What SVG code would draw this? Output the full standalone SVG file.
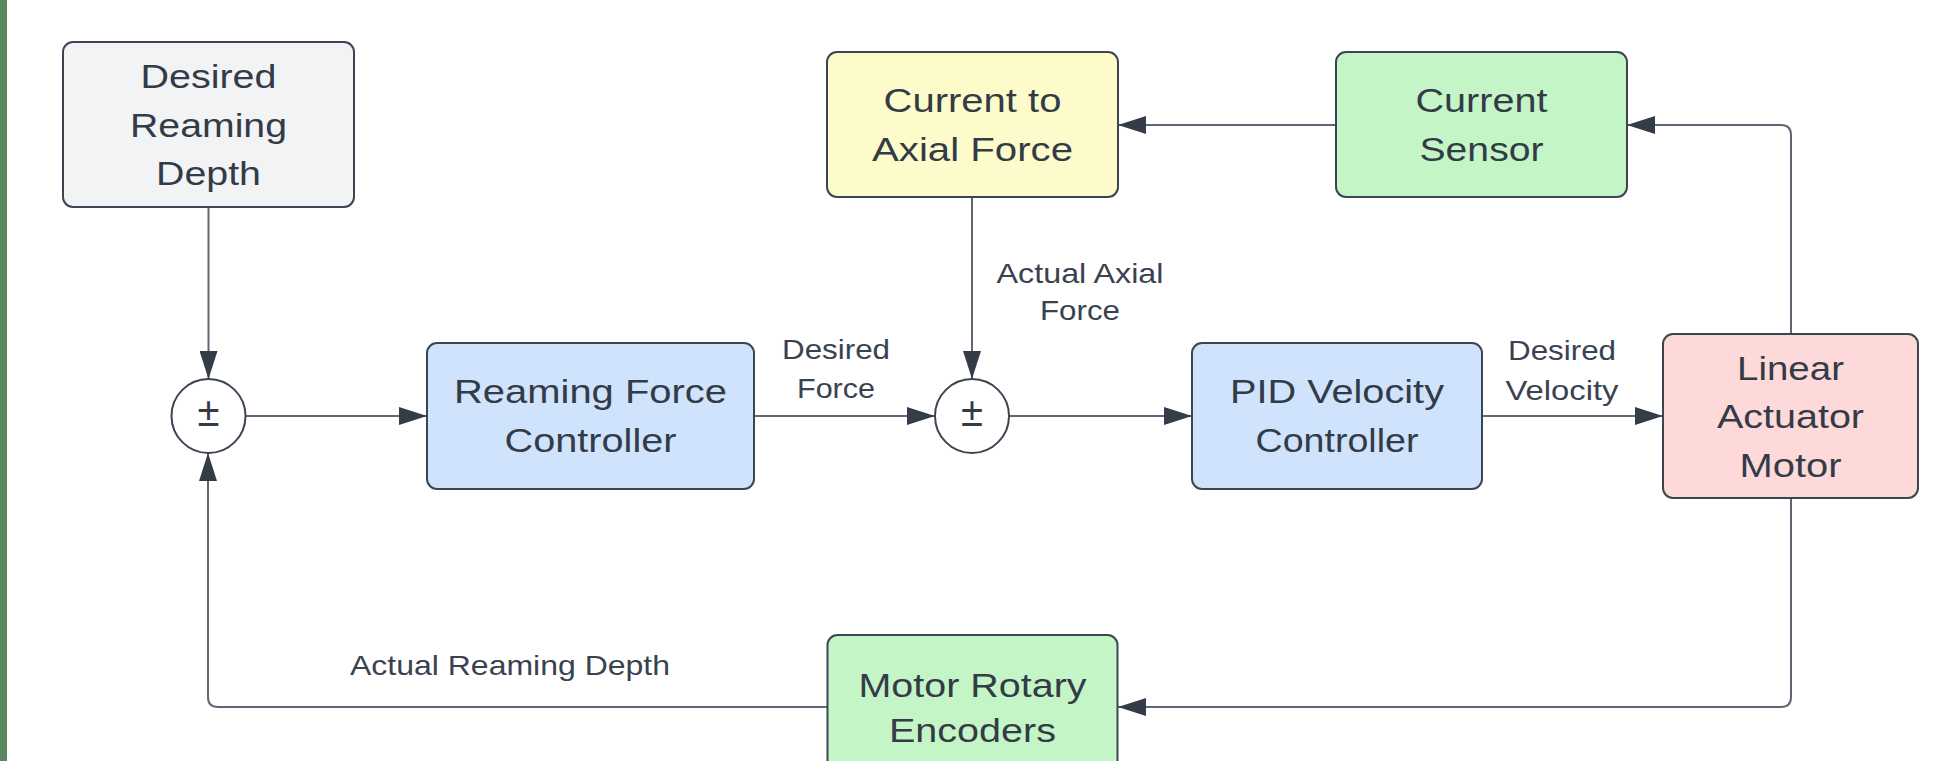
<svg xmlns="http://www.w3.org/2000/svg" width="1953" height="761" viewBox="0 0 1953 761">
  <defs>
    <marker id="arrow" markerUnits="userSpaceOnUse" markerWidth="28" markerHeight="18" refX="28" refY="9" orient="auto">
      <path d="M0,0 L28,9 L0,18 Z" fill="#353c49"/>
    </marker>
    <style>
      .box { stroke: #3e4552; stroke-width: 2; }
      .gray { fill: #f2f3f5; }
      .yellow { fill: #fdfbca; }
      .green { fill: #c3f5c6; }
      .blue { fill: #cfe3fc; }
      .pink { fill: #fed9d9; }
      .sum { fill: #ffffff; stroke: #3e4552; stroke-width: 2; }
      .t { font-family: "Liberation Sans", Arial, sans-serif; font-size: 33px; fill: #333b47; text-anchor: middle; }
      .lbl { font-family: "Liberation Sans", Arial, sans-serif; font-size: 28px; fill: #3a4250; text-anchor: middle; }
      .pm { font-family: "Liberation Sans", Arial, sans-serif; font-size: 40px; fill: #333b47; text-anchor: middle; }
      .wire { fill: none; stroke: #5f6674; stroke-width: 2; marker-end: url(#arrow); }
    </style>
  </defs>

  <rect width="1953" height="761" fill="#ffffff"/>
  <rect x="0" y="0" width="7" height="761" fill="#5b875f"/>

  <!-- connectors -->
  <g id="connectors">
    <path class="wire" d="M208.5,207 L208.5,379"/>
    <path class="wire" d="M245,416 L427,416"/>
    <path class="wire" d="M754,416 L935,416"/>
    <path class="wire" d="M972,197 L972,379"/>
    <path class="wire" d="M1009,416 L1192,416"/>
    <path class="wire" d="M1482,416 L1663,416"/>
    <path class="wire" d="M1791,334 L1791,135 Q1791,125 1781,125 L1627,125"/>
    <path class="wire" d="M1336,125 L1118,125"/>
    <path class="wire" d="M1791,498 L1791,697 Q1791,707 1781,707 L1118,707"/>
    <path class="wire" d="M827,707 L218,707 Q208,707 208,697 L208,453"/>
    <text class="lbl" x="836" y="359" textLength="108" lengthAdjust="spacingAndGlyphs">Desired</text>
    <text class="lbl" x="836" y="398" textLength="78" lengthAdjust="spacingAndGlyphs">Force</text>
    <text class="lbl" x="1080" y="283" textLength="167" lengthAdjust="spacingAndGlyphs">Actual Axial</text>
    <text class="lbl" x="1080" y="320" textLength="80" lengthAdjust="spacingAndGlyphs">Force</text>
    <text class="lbl" x="1562" y="360" textLength="108" lengthAdjust="spacingAndGlyphs">Desired</text>
    <text class="lbl" x="1562" y="400" textLength="113" lengthAdjust="spacingAndGlyphs">Velocity</text>
    <text class="lbl" x="510" y="675" textLength="320" lengthAdjust="spacingAndGlyphs">Actual Reaming Depth</text>
  </g>

  <g id="desired-depth">
    <rect class="box gray" x="63" y="42" width="291" height="165" rx="10"/>
    <text class="t" x="208.5" y="88" textLength="136" lengthAdjust="spacingAndGlyphs">Desired</text>
    <text class="t" x="208.5" y="137" textLength="157" lengthAdjust="spacingAndGlyphs">Reaming</text>
    <text class="t" x="208.5" y="185" textLength="105" lengthAdjust="spacingAndGlyphs">Depth</text>
  </g>

  <g id="sum-depth">
    <circle class="sum" cx="208.5" cy="416" r="37"/>
    <text class="pm" x="208.5" y="426">±</text>
  </g>

  <g id="force-controller">
    <rect class="box blue" x="427" y="343" width="327" height="146" rx="10"/>
    <text class="t" x="590.5" y="403" textLength="273" lengthAdjust="spacingAndGlyphs">Reaming Force</text>
    <text class="t" x="590.5" y="452" textLength="172" lengthAdjust="spacingAndGlyphs">Controller</text>
  </g>

  <g id="sum-force">
    <circle class="sum" cx="972" cy="416" r="37"/>
    <text class="pm" x="972" y="426">±</text>
  </g>

  <g id="current-to-force">
    <rect class="box yellow" x="827" y="52" width="291" height="145" rx="10"/>
    <text class="t" x="972.5" y="112" textLength="178" lengthAdjust="spacingAndGlyphs">Current to</text>
    <text class="t" x="972.5" y="161" textLength="201" lengthAdjust="spacingAndGlyphs">Axial Force</text>
  </g>

  <g id="current-sensor">
    <rect class="box green" x="1336" y="52" width="291" height="145" rx="10"/>
    <text class="t" x="1481.5" y="112" textLength="132" lengthAdjust="spacingAndGlyphs">Current</text>
    <text class="t" x="1481.5" y="161" textLength="124" lengthAdjust="spacingAndGlyphs">Sensor</text>
  </g>

  <g id="pid-controller">
    <rect class="box blue" x="1192" y="343" width="290" height="146" rx="10"/>
    <text class="t" x="1337" y="403" textLength="214" lengthAdjust="spacingAndGlyphs">PID Velocity</text>
    <text class="t" x="1337" y="452" textLength="163" lengthAdjust="spacingAndGlyphs">Controller</text>
  </g>

  <g id="actuator-motor">
    <rect class="box pink" x="1663" y="334" width="255" height="164" rx="10"/>
    <text class="t" x="1790.5" y="380" textLength="107" lengthAdjust="spacingAndGlyphs">Linear</text>
    <text class="t" x="1790.5" y="428" textLength="147" lengthAdjust="spacingAndGlyphs">Actuator</text>
    <text class="t" x="1790.5" y="477" textLength="102" lengthAdjust="spacingAndGlyphs">Motor</text>
  </g>

  <g id="rotary-encoders">
    <rect class="box green" x="827.5" y="635" width="290" height="145" rx="10"/>
    <text class="t" x="972.5" y="697" textLength="228" lengthAdjust="spacingAndGlyphs">Motor Rotary</text>
    <text class="t" x="972.5" y="742" textLength="167" lengthAdjust="spacingAndGlyphs">Encoders</text>
  </g>
</svg>
